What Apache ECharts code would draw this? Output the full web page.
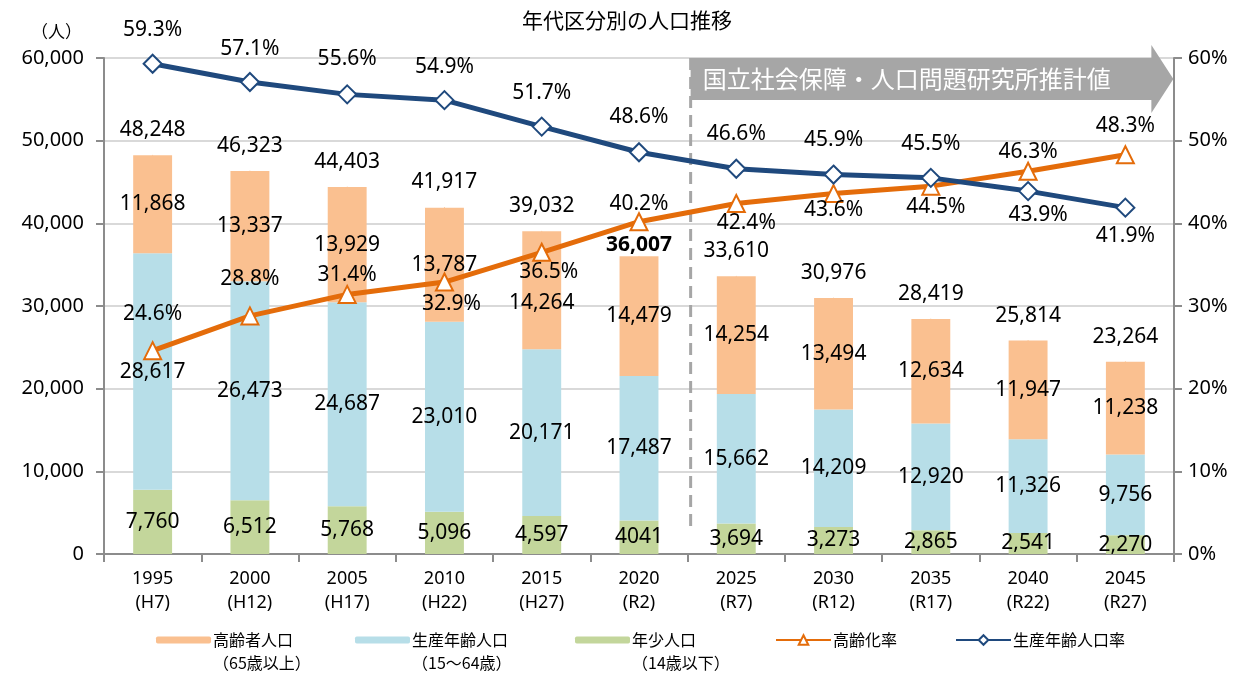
<!DOCTYPE html>
<html>
<head>
<meta charset="utf-8">
<script src="https://cdn.jsdelivr.net/npm/echarts@6/dist/echarts.min.js"></script>
<style>
  html, body { margin: 0; padding: 0; background: #fff; }
  #main { width: 1254px; height: 675px; }
</style>
</head>
<body>
<div id="main"></div>
<script>
// 年代区分別の人口推移
var years = ['1995', '2000', '2005', '2010', '2015', '2020', '2025', '2030', '2035', '2040', '2045'];
var eras = ['H7', 'H12', 'H17', 'H22', 'H27', 'R2', 'R7', 'R12', 'R17', 'R22', 'R27'];
var youth = [7760, 6512, 5768, 5096, 4597, 4041, 3694, 3273, 2865, 2541, 2270];
var working = [28617, 26473, 24687, 23010, 20171, 17487, 15662, 14209, 12920, 11326, 9756];
var elderly = [11868, 13337, 13929, 13787, 14264, 14479, 14254, 13494, 12634, 11947, 11238];
var totals = [48248, 46323, 44403, 41917, 39032, 36007, 33610, 30976, 28419, 25814, 23264];
var agingRate = [24.6, 28.8, 31.4, 32.9, 36.5, 40.2, 42.4, 43.6, 44.5, 46.3, 48.3];
var workingRate = [59.3, 57.1, 55.6, 54.9, 51.7, 48.6, 46.6, 45.9, 45.5, 43.9, 41.9];

// ラベルの位置調整（点からのずれ）
var agingOffsets = [[0,-37],[0,-37],[0,-19],[7,22],[7,20],[0,-18],[10,20],[0,16],[5,21],[0,-19],[0,-29]];
var workingOffsets = [[0,-34],[0,-33],[0,-35],[0,-33],[0,-34],[0,-35],[0,-35],[0,-35],[0,-34],[10,24],[0,28]];
var totalOffsets = [-25,-25,-25,-25,-25,-11,-25,-25,-25,-25,-25];

var subNames = {'高齢者人口': '（65歳以上）', '生産年齢人口': '（15～64歳）', '年少人口': '（14歳以下）'};

var NUM_FONT = '"Noto Sans", "DejaVu Sans", sans-serif';
var JP_FONT = '"Noto Sans CJK JP", sans-serif';

var fmt = function (v) {
  return String(v).replace(/\B(?=(\d{3})+(?!\d))/g, ',');
};

var barLabel = {
  show: true,
  position: 'inside',
  color: '#000',
  textBorderWidth: 0,
  fontFamily: NUM_FONT,
  fontSize: 21
};

var makeLegend = function (name, left, itemHeight, twoLine) {
  var lh = 23;
  return {
    data: [name],
    left: left,
    top: twoLine ? 640 - lh * 1.5 : 640 - lh / 2,
    padding: 0,
    itemWidth: 55,
    itemHeight: itemHeight,
    itemGap: 0,
    formatter: function (n) {
      return twoLine ? ' \n' + n + '\n' + subNames[n] : n;
    },
    textStyle: {
      fontFamily: JP_FONT,
      fontSize: 16,
      lineHeight: lh,
      color: '#000',
      padding: [0, 0, 0, -3]
    }
  };
};

var chart = echarts.init(document.getElementById('main'));

var option = {
  backgroundColor: '#fff',
  animation: false,
  title: {
    text: '年代区分別の人口推移',
    left: 'center',
    top: 5,
    textStyle: { fontFamily: JP_FONT, fontSize: 21, fontWeight: 'normal', color: '#000' }
  },
  grid: { left: 104, right: 80, top: 58, bottom: 121, outerBoundsMode: 'none' },
  legend: [
    makeLegend('高齢者人口', 156, 7, true),
    makeLegend('生産年齢人口', 355, 7, true),
    makeLegend('年少人口', 575, 7, true),
    makeLegend('高齢化率', 775, 12, false),
    makeLegend('生産年齢人口率', 955, 12, false)
  ],
  xAxis: {
    type: 'category',
    data: years,
    axisLine: { lineStyle: { color: '#8C8C8C', width: 2 } },
    axisTick: { show: true, length: 8, lineStyle: { color: '#8C8C8C', width: 2 } },
    axisLabel: {
      margin: 13,
      color: '#000',
      fontFamily: '"Liberation Sans Narrow", ' + NUM_FONT,
      fontSize: 18,
      lineHeight: 24,
      formatter: function (v, i) { return v + '\n(' + eras[i] + ')'; }
    }
  },
  yAxis: [
    {
      type: 'value',
      min: 0,
      max: 60000,
      interval: 10000,
      axisLine: { show: true, lineStyle: { color: '#8C8C8C', width: 2 } },
      axisTick: { show: true, length: 8, lineStyle: { color: '#8C8C8C', width: 2 } },
      axisLabel: { margin: 20, color: '#000', fontFamily: NUM_FONT, fontSize: 20, formatter: fmt },
      splitLine: { lineStyle: { color: '#D9D9D9', width: 2 } }
    },
    {
      type: 'value',
      min: 0,
      max: 60,
      interval: 10,
      position: 'right',
      axisLine: { show: true, lineStyle: { color: '#8C8C8C', width: 2 } },
      axisTick: { show: true, length: 8, lineStyle: { color: '#8C8C8C', width: 2 } },
      axisLabel: { margin: 14, color: '#000', fontFamily: NUM_FONT, fontSize: 20, formatter: '{value}%' },
      splitLine: { show: false }
    }
  ],
  series: [
    {
      name: '年少人口',
      type: 'bar',
      stack: 'pop',
      barWidth: '40%',
      itemStyle: { color: '#C3D69B' },
      label: Object.assign({}, barLabel, {
        // 2020年は原図どおりカンマなし
        formatter: function (p) { return p.dataIndex === 5 ? String(p.value) : fmt(p.value); }
      }),
      data: youth
    },
    {
      name: '生産年齢人口',
      type: 'bar',
      stack: 'pop',
      itemStyle: { color: '#B7DEE8' },
      label: Object.assign({}, barLabel, { formatter: function (p) { return fmt(p.value); } }),
      data: working
    },
    {
      name: '高齢者人口',
      type: 'bar',
      stack: 'pop',
      itemStyle: { color: '#FAC090' },
      label: Object.assign({}, barLabel, { formatter: function (p) { return fmt(p.value); } }),
      data: elderly.map(function (v, i) {
        return i === 4 ? { value: v, label: { offset: [0, 13] } } : v;
      })
    },
    {
      name: '合計',
      type: 'scatter',
      symbolSize: 1,
      itemStyle: { color: '#FAC090', opacity: 1 },
      z: 5,
      label: {
        show: true,
        position: 'inside',
        color: '#000',
        textBorderWidth: 0,
        fontFamily: NUM_FONT,
        fontSize: 21,
        formatter: function (p) { return fmt(p.value); }
      },
      emphasis: { disabled: true },
      data: totals.map(function (v, i) {
        var item = { value: v, label: { offset: [0, totalOffsets[i]] } };
        if (i === 5) item.label.fontWeight = 'bold';
        return item;
      })
    },
    {
      name: '高齢化率',
      type: 'line',
      yAxisIndex: 1,
      symbol: 'triangle',
      symbolSize: 17,
      z: 6,
      lineStyle: { color: '#E46C0A', width: 5 },
      itemStyle: { color: '#fff', borderColor: '#E46C0A', borderWidth: 2 },
      label: {
        show: true,
        position: 'inside',
        color: '#000',
        textBorderWidth: 0,
        fontFamily: NUM_FONT,
        fontSize: 21,
        formatter: function (p) { return p.value.toFixed(1) + '%'; }
      },
      data: agingRate.map(function (v, i) {
        return { value: v, label: { offset: agingOffsets[i] } };
      })
    },
    {
      name: '生産年齢人口率',
      type: 'line',
      yAxisIndex: 1,
      symbol: 'diamond',
      symbolSize: 18,
      z: 6,
      lineStyle: { color: '#1F497D', width: 5 },
      itemStyle: { color: '#fff', borderColor: '#1F497D', borderWidth: 2 },
      label: {
        show: true,
        position: 'inside',
        color: '#000',
        textBorderWidth: 0,
        fontFamily: NUM_FONT,
        fontSize: 21,
        formatter: function (p) { return p.value.toFixed(1) + '%'; }
      },
      data: workingRate.map(function (v, i) {
        return { value: v, label: { offset: workingOffsets[i] } };
      })
    }
  ]
};

chart.setOption(option);

// 推計値の区切り線と矢印
var xa = chart.convertToPixel({ xAxisIndex: 0 }, years[5]);
var xb = chart.convertToPixel({ xAxisIndex: 0 }, years[6]);
var xSplit = (xa + xb) / 2 + 3;
var yTop = chart.convertToPixel({ yAxisIndex: 0 }, 60000);
var yBottom = chart.convertToPixel({ yAxisIndex: 0 }, 0);
var xRight = chart.convertToPixel({ xAxisIndex: 0 }, years[10]) + 48;

chart.setOption({
  graphic: [
    {
      type: 'text',
      x: 82,
      y: 32,
      style: { text: '（人）', fontFamily: JP_FONT, fontSize: 17, fill: '#000', align: 'right', verticalAlign: 'middle' }
    },
    {
      type: 'line',
      z: 1,
      shape: { x1: xSplit, y1: yTop, x2: xSplit, y2: yBottom - 26 },
      style: { stroke: '#A6A6A6', lineWidth: 3, lineDash: [12, 7] }
    },
    {
      type: 'polygon',
      z: 2,
      shape: {
        points: [
          [xSplit, yTop], [xRight - 22, yTop], [xRight - 22, yTop - 13],
          [xRight, yTop + 21], [xRight - 22, yTop + 55], [xRight - 22, yTop + 42],
          [xSplit, yTop + 42]
        ]
      },
      style: { fill: '#A6A6A6' }
    },
    {
      type: 'text',
      z: 3,
      x: xSplit + 12,
      y: yTop + 21,
      style: {
        text: '国立社会保障・人口問題研究所推計値',
        fontFamily: JP_FONT,
        fontSize: 24,
        fill: '#fff',
        verticalAlign: 'middle'
      }
    }
  ]
});
</script>
</body>
</html>
